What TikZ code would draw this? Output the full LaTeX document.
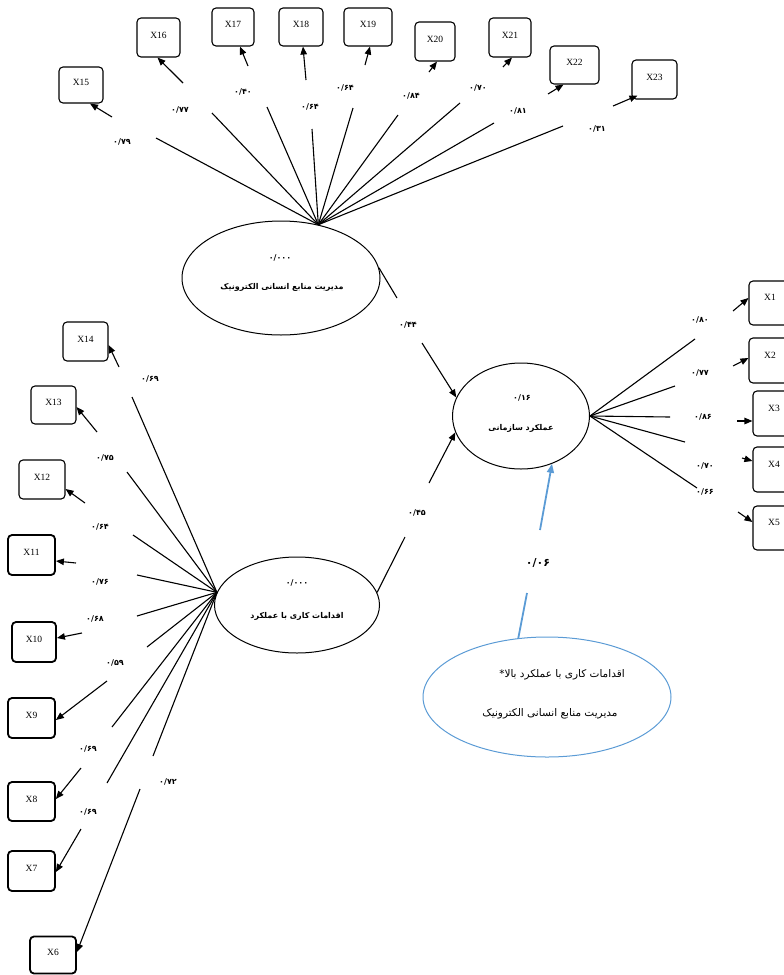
\documentclass[tikz,border=0pt]{standalone}
\usepackage{fontspec}
\setmainfont{Liberation Serif}
\newfontfamily\arb[Script=Arabic]{DejaVu Sans}
\TeXXeTstate=1
\usetikzlibrary{shapes.geometric,arrows.meta}
\definecolor{iblue}{RGB}{91,155,213}
\begin{document}
\begin{tikzpicture}[x=1pt,y=-1pt,
 ind/.style={draw, rounded corners=4pt, line width=1.1pt, inner sep=0pt, font=\fontsize{9.5}{10}\selectfont, text height=6pt, text depth=5pt},
 indb/.style={ind, line width=1.8pt},
 indr/.style={ind, text depth=11pt},
 sz/.style 2 args={minimum width=#1pt, minimum height=#2pt},
 lat/.style={draw, ellipse, line width=1pt, inner sep=0pt},
 ln/.style={line width=1.1pt},
 arr/.style={line width=1.1pt, -{Triangle[length=8pt,width=6.5pt]}},
 num/.style={inner sep=0pt, font=\arb\bfseries\fontsize{8}{9}\selectfont},
 nm/.style={inner sep=0pt, font=\arb\bfseries\fontsize{8}{10}\selectfont},
 it/.style={inner sep=0pt, font=\arb\fontsize{10.5}{12}\selectfont},
 bl/.style={line width=1.8pt, draw=iblue},
 blarr/.style={bl, -{Triangle[length=9pt,width=7pt]}},
]
\useasboundingbox (0,0) rectangle (784,975);

% latent variables
\node[lat, minimum width=198pt, minimum height=114pt] (tE) at (281,278) {};
\node[lat, minimum width=137pt, minimum height=106pt] (cE) at (521,416) {};
\node[lat, minimum width=165pt, minimum height=96pt] (bE) at (297,605) {};
\node[lat, draw=iblue, minimum width=248pt, minimum height=120pt] (iE) at (547,697) {};

\node[num] (tEv) at (280,258) {۰/۰۰۰};
\node[nm] (tEn) at (282,287) {\beginR مدیریت منابع انسانی الکترونیک\endR};
\node[num] (cEv) at (522,398) {۰/۱۶};
\node[nm] (cEn) at (521,428) {\beginR عملکرد سازمانی\endR};
\node[num] (bEv) at (297,583) {۰/۰۰۰};
\node[nm] (bEn) at (297,616) {\beginR اقدامات کاری با عملکرد\endR};
\node[it] (iE1) at (562,675) {\beginR اقدامات کاری با عملکرد بالا*\endR};
\node[it] (iE2) at (550,714) {\beginR مدیریت منابع انسانی الکترونیک\endR};

% top indicators
\node[ind, sz={44}{36}] (X15) at (81,85) {X15};
\node[ind, sz={43}{39}] (X16) at (158.5,37.5) {X16};
\node[ind, sz={42}{38}] (X17) at (233,27) {X17};
\node[ind, sz={44}{38}] (X18) at (301,27) {X18};
\node[ind, sz={48}{38}] (X19) at (368,27) {X19};
\node[ind, sz={40}{39}] (X20) at (435,41.5) {X20};
\node[ind, sz={42}{39}] (X21) at (510,37.5) {X21};
\node[ind, sz={49}{38}] (X22) at (574.5,65) {X22};
\node[ind, sz={45}{39}] (X23) at (654.5,79.5) {X23};

\coordinate (tA) at (tE.55);
\coordinate (a15) at (156,138); \coordinate (b15) at (112,117);
\coordinate (a16) at (212,113); \coordinate (b16) at (183,83);
\coordinate (a17) at (267,107); \coordinate (b17) at (248,66);
\coordinate (a18) at (312,129); \coordinate (b18) at (306,80);
\coordinate (a19) at (353,108); \coordinate (b19) at (365,65);
\coordinate (a20) at (398,115); \coordinate (b20) at (429,72);
\coordinate (a21) at (460,103); \coordinate (b21) at (503,67);
\coordinate (a22) at (494,123); \coordinate (b22) at (548,94);
\coordinate (a23) at (563,126); \coordinate (b23) at (613,106);

\foreach \i in {15,...,23} { \draw[ln] (tA) -- (a\i); }
\draw[arr] (b15) -- ([xshift=9pt]X15.south);
\draw[arr] (b16) -- ([xshift=-1pt]X16.south);
\draw[arr] (b17) -- ([xshift=7pt]X17.south);
\draw[arr] (b18) -- ([xshift=2pt]X18.south);
\draw[arr] (b19) -- ([xshift=2pt]X19.south);
\draw[arr] (b20) -- ([xshift=2pt]X20.south);
\draw[arr] (b21) -- ([xshift=2pt]X21.south);
\draw[arr] (b22) -- ([xshift=-11pt]X22.south);
\draw[arr] (b23) -- ([xshift=6pt,yshift=4pt]X23.south west);

\node[num] (l15) at (122,142) {۰/۷۹};
\node[num] (l16) at (180,110) {۰/۷۷};
\node[num] (l17) at (243,92) {۰/۴۰};
\node[num] (l18) at (310,107) {۰/۶۴};
\node[num] (l19) at (345,88) {۰/۶۴};
\node[num] (l20) at (411,96) {۰/۸۴};
\node[num] (l21) at (478,88) {۰/۷۰};
\node[num] (l22) at (518,111) {۰/۸۱};
\node[num] (l23) at (597,129) {۰/۳۱};

% left indicators
\node[ind, sz={45}{39}] (X14) at (85.5,341.5) {X14};
\node[ind, sz={45}{38}] (X13) at (53.5,405) {X13};
\node[ind, sz={46}{39}] (X12) at (42,479.5) {X12};
\node[indb, sz={47}{40}] (X11) at (31.5,555) {X11};
\node[indb, sz={44}{40}] (X10) at (34,642) {X10};
\node[indb, sz={47}{40}] (X9) at (31.5,718) {X9};
\node[indb, sz={47}{39}] (X8) at (31.5,801.5) {X8};
\node[indb, sz={47}{40}] (X7) at (31.5,871) {X7};
\node[indb, sz={46}{37}] (X6) at (53,955) {X6};

\coordinate (lA) at (bE.171);
\coordinate (a14) at (132,397); \coordinate (b14) at (119,367);
\coordinate (a13) at (127,472); \coordinate (b13) at (97,432);
\coordinate (a12) at (133,535); \coordinate (b12) at (85,503);
\coordinate (a11) at (137,575); \coordinate (b11) at (76,563);
\coordinate (a10) at (137,616); \coordinate (b10) at (82,633);
\coordinate (a9) at (147,647); \coordinate (b9) at (107,681);
\coordinate (a8) at (112,727); \coordinate (b8) at (81,768);
\coordinate (a7) at (107,783); \coordinate (b7) at (81,829);
\coordinate (a6) at (153,756); \coordinate (b6) at (140,789);

\foreach \i in {6,...,14} { \draw[ln] (lA) -- (a\i); }
\draw[arr] (b14) -- ([yshift=-3.5pt]X14.east);
\draw[arr] (b13) -- ([yshift=-2pt]X13.east);
\draw[arr] (b12) -- ([yshift=-9.5pt]X12.east);
\draw[arr] (b11) -- ([yshift=-6pt]X11.east);
\draw[arr] (b10) -- ([yshift=4pt]X10.east);
\draw[arr] (b9) -- ([yshift=-2pt]X9.east);
\draw[arr] (b8) -- ([yshift=2.5pt]X8.east);
\draw[arr] (b7) -- ([yshift=-1pt]X7.east);
\draw[arr] (b6) -- ([yshift=3pt]X6.east);

\node[num] (l14) at (150,379) {۰/۶۹};
\node[num] (l13) at (105,458) {۰/۷۵};
\node[num] (l12) at (100,527) {۰/۶۴};
\node[num] (l11) at (100,582) {۰/۷۶};
\node[num] (l10) at (95,619) {۰/۶۸};
\node[num] (l9) at (115,663) {۰/۵۹};
\node[num] (l8) at (88,749) {۰/۶۹};
\node[num] (l7) at (88,812) {۰/۶۹};
\node[num] (l6) at (168,782) {۰/۷۲};

% right indicators
\node[indr, sz={42}{44}] (X1) at (770,303) {X1};
\node[indr, sz={42}{45}] (X2) at (770,360.5) {X2};
\node[indr, sz={42}{45}] (X3) at (774,413.5) {X3};
\node[indr, sz={42}{45}] (X4) at (774,469.5) {X4};
\node[indr, sz={42}{44}] (X5) at (774,528) {X5};

\coordinate (rA) at (cE.east);
\coordinate (a1) at (695,339); \coordinate (b1) at (733,311);
\coordinate (a2) at (675,386); \coordinate (b2) at (733,366);
\coordinate (a3) at (670,417); \coordinate (b3) at (737,421);
\coordinate (a4) at (685,442); \coordinate (b4) at (742,458);
\coordinate (a5) at (697,488); \coordinate (b5) at (738,512);

\foreach \i in {1,...,5} { \draw[ln] (rA) -- (a\i); }
\draw[arr] (b1) -- ([yshift=5pt]X1.west);
\draw[arr] (b2) -- ([yshift=2.5pt]X2.west);
\draw[arr] (b3) -- ([yshift=-7.5pt]X3.west);
\draw[arr] (b4) -- ([yshift=8.5pt]X4.west);
\draw[arr] (b5) -- ([yshift=6pt]X5.west);

\node[num] (l1) at (700,320) {۰/۸۰};
\node[num] (l2) at (700,373) {۰/۷۷};
\node[num] (l3) at (703,417) {۰/۸۶};
\node[num] (l4) at (705,466) {۰/۷۰};
\node[num] (l5) at (705,492) {۰/۶۶};

% structural paths
\coordinate (a44) at (397,298); \coordinate (b44) at (422,343);
\draw[ln] (tE.6) -- (a44);
\draw[arr] (b44) -- (cE.164);
\node[num] (l44) at (408,325) {۰/۴۴};

\coordinate (a45) at (405,537); \coordinate (b45) at (429,483);
\draw[ln] (bE.9) -- (a45);
\draw[arr] (b45) -- (cE.194);
\node[num] (l45) at (417,513) {۰/۴۵};

\coordinate (a06) at (527,593); \coordinate (b06) at (540,530);
\draw[bl] (iE.116) -- (a06);
\draw[blarr] (b06) -- (cE.-57);
\node[it, font=\arb\bfseries\fontsize{11}{12}\selectfont] (l06) at (538,563) {۰/۰۶};
\end{tikzpicture}
\end{document}
